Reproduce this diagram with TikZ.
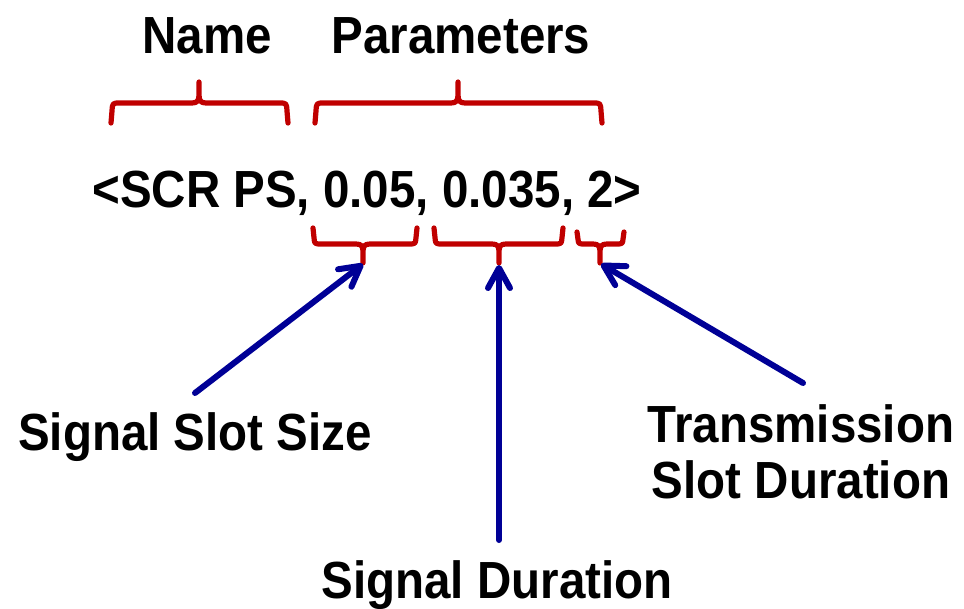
\documentclass[tikz,border=0pt]{standalone}
\usepackage{fontspec}
\setmainfont{Liberation Sans}
\usetikzlibrary{arrows.meta}
\definecolor{bracered}{RGB}{192,0,0}
\definecolor{arrowblue}{RGB}{0,0,150}
% Curly brace: #1 left x, #2 right x, #3 tip x, #4 end y, #5 bar y, #6 tip y
\newcommand\drawcurly[6]{%
  \pgfmathsetmacro\curlyend{#5+0.4*(#4-#5)}%
  \pgfmathsetmacro\curlystem{#5+0.4*(#6-#5)}%
  \pgfmathsetmacro\curlyctl{#5+0.12*(#6-#5)}%
  \draw[curly] (#1,#4) -- ({#1+1},\curlyend)
    .. controls ({#1+1.5},#5) .. ({#1+9},#5)
    -- ({#3-7},#5) .. controls ({#3-1.5},#5) and (#3,\curlyctl) .. (#3,\curlystem)
    -- (#3,#6) -- (#3,\curlystem)
    .. controls (#3,\curlyctl) and ({#3+1.5},#5) .. ({#3+7},#5)
    -- ({#2-9},#5) .. controls ({#2-1.5},#5) .. ({#2-1},\curlyend)
    -- (#2,#4);}
\tikzset{
  curly/.style={draw=bracered, line width=2.6pt, line cap=round, line join=round},
  pointer/.style={draw=arrowblue, line width=3pt, line cap=round,
    -{Straight Barb[length=10pt, width=11pt, line cap=round, line join=round]}},
  label/.style={font=\bfseries\fontsize{23.75pt}{28pt}\selectfont, inner sep=0pt,
    anchor=base, yscale=1.1},
}
\begin{document}
\begin{tikzpicture}[x=0.5pt, y=-0.5pt]
\useasboundingbox (0,0) rectangle (964,609);

% headings and the tuple
\node[label] (name)   at (207,54)  {Name};
\node[label] (params) at (461,54)  {Parameters};
\node[label] (tuple)  at (367,208) {<SCR PS, 0.05, 0.035, 2>};

% braces above the tuple
\drawcurly{111}{288}{199}{123}{103}{82}
\drawcurly{315}{602}{458}{123}{103}{82}

% braces below the tuple
\drawcurly{313}{417}{363}{228}{244}{263}
\drawcurly{434}{563}{499}{228}{244}{263}
\drawcurly{577}{624}{600}{232}{244}{263}

% tips of the lower braces
\coordinate (tipslot) at (363,264);
\coordinate (tipdur)  at (499,265);
\coordinate (tiptx)   at (601,264);

% parameter labels
\node[label] (slotsize) at (195,450) {Signal Slot Size};
\node[label] (sigdur)   at (497,598) {Signal Duration};
\node[label] (txa)      at (801,442) {Transmission};
\node[label] (txb)      at (801,498) {Slot Duration};

% arrow tails
\coordinate (fromslot) at (195,393);
\coordinate (fromdur)  at (499,540);
\coordinate (fromtx)   at (803,383);

\draw[pointer] (fromslot) -- (tipslot);
\draw[pointer] (fromdur)  -- (tipdur);
\draw[pointer] (fromtx)   -- (tiptx);
\end{tikzpicture}
\end{document}
